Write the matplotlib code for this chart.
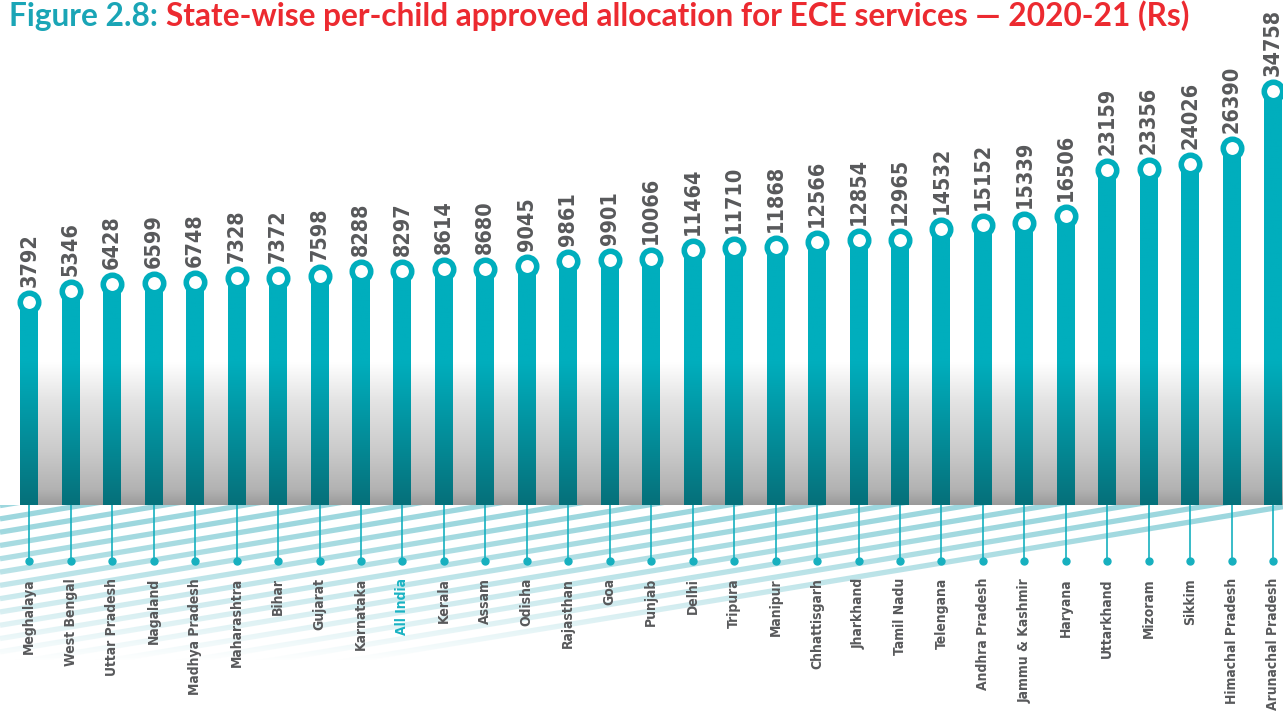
import numpy as np
import matplotlib.pyplot as plt
from matplotlib.colors import to_rgb

states = ['Meghalaya', 'West Bengal', 'Uttar Pradesh', 'Nagaland', 'Madhya Pradesh',
          'Maharashtra', 'Bihar', 'Gujarat', 'Karnataka', 'All India', 'Kerala',
          'Assam', 'Odisha', 'Rajasthan', 'Goa', 'Punjab', 'Delhi', 'Tripura',
          'Manipur', 'Chhattisgarh', 'Jharkhand', 'Tamil Nadu', 'Telengana',
          'Andhra Pradesh', 'Jammu & Kashmir', 'Haryana', 'Uttarkhand', 'Mizoram',
          'Sikkim', 'Himachal Pradesh', 'Arunachal Pradesh']
values = [3792, 5346, 6428, 6599, 6748, 7328, 7372, 7598, 8288, 8297, 8614,
          8680, 9045, 9861, 9901, 10066, 11464, 11710, 11868, 12566, 12854,
          12965, 14532, 15152, 15339, 16506, 23159, 23356, 24026, 26390, 34758]
highlight = 'All India'

TEAL = '#00aebd'
TEAL_DARK = '#06707a'
TEAL_LINE = '#17b0bf'
STRIPE = '#9dd7de'
GREY_TXT = '#58595b'
NARROW = dict(family='DejaVu Sans', stretch='condensed', fontweight='bold')

W, H = 1283, 713
BASE = 505          # bar baseline, pixels from top
FADE = 143          # height of the shaded band above the baseline
fig = plt.figure(figsize=(W / 100, H / 100), dpi=100)

n = len(states)
x = np.arange(n)
x0, dx = 29.3, 41.46
xlim = (-x0 / dx, (W - x0) / dx)
ymin, ymax = -26060, 48200
bw = 0.434

# grey shaded band behind the lower half of the bars
band = fig.add_axes([21 / W, (H - BASE) / H, 1 - 21 / W, FADE / H], zorder=0)
stops = np.array([0.0, 38, 88, 128, 143]) / FADE
greys = np.array([255, 228, 203, 178, 155]) / 255
yy = np.linspace(0, 1, 200)
g = np.interp(yy, stops, greys)
band.imshow(np.repeat(g[:, None, None], 3, axis=2), aspect='auto',
            extent=[0, 1, 1, 0], origin='upper')
band.set_axis_off()

ax = fig.add_axes([0, (H - BASE) / H, 1, BASE / H], zorder=2)
ax.patch.set_alpha(0)
ax.set_axis_off()

# bar colour fades from teal to dark teal over the shaded band
N = 600
frac = np.linspace(0, 1, N)
t = np.clip(1 - frac / (FADE / BASE), 0, 1)
top, bot = np.array(to_rgb(TEAL)), np.array(to_rgb(TEAL_DARK))
grad = (top[None, :] * (1 - t[:, None]) + bot[None, :] * t[:, None])[:, None, :]

bars = ax.bar(x, np.array(values) - ymin, bottom=ymin, width=bw,
              color=TEAL, zorder=2)
for xi, b in zip(x, bars):
    im = ax.imshow(grad, aspect='auto', origin='lower', zorder=2.5,
                   extent=[xi - bw / 2, xi + bw / 2, ymin, ymax])
    im.set_clip_path(b)

ax.plot(x, values, 'o', ms=13.3, mfc='white', mec=TEAL, mew=4.0,
        zorder=4, clip_on=False)
for xi, v in zip(x, values):
    ax.annotate(str(v), (xi, v), xytext=(0, 15), textcoords='offset pixels',
                rotation=90, ha='center', va='bottom', fontsize=15.5,
                color=GREY_TXT, **NARROW)
ax.set_xlim(*xlim)
ax.set_ylim(ymin, ymax)

# diagonal stripes under the baseline, fading out downwards
low = H - BASE
ax_s = fig.add_axes([0, 0, 1, low / H], zorder=1)
ax_s.set_axis_off()
xs = np.array([0, W])
for kk in range(-25, 1):
    ax_s.plot(xs, 3 + 0.165 * (1275 - xs) + 13.3 * kk, color=STRIPE,
              lw=3.8, solid_capstyle='butt', zorder=1)
ry = np.arange(low)
veil = np.ones((low, 1, 4))
veil[:, 0, 3] = np.clip((ry - 15) / 140, 0, 1) ** 1.2
ax_s.imshow(veil, aspect='auto', extent=(0, W, low, 0), origin='upper',
            zorder=2)
ax_s.set_xlim(0, W)
ax_s.set_ylim(low, 0)

# stems, dots and state names
ax_l = fig.add_axes([0, 0, 1, low / H], zorder=3)
ax_l.patch.set_alpha(0)
ax_l.set_axis_off()
ax_l.vlines(x, 0, 56, color=TEAL_LINE, lw=1.2)
ax_l.plot(x, np.full(n, 56), 'o', ms=5, color=TEAL_LINE)
for xi, s in zip(x, states):
    ax_l.text(xi, 73, s, rotation=90, ha='center', va='top', fontsize=10,
              color='#1ab3c3' if s == highlight else GREY_TXT, **NARROW)
ax_l.set_xlim(*xlim)
ax_l.set_ylim(low, 0)

t1 = fig.text(9 / W, 1 - 26 / H, 'Figure 2.8:', fontsize=22.8,
              fontweight='bold', family='Lato', color='#1aa5b6',
              va='baseline', ha='left')
fig.add_artist(plt.Annotation(
    'State-wise per-child approved allocation for ECE services \u2014 2020-21 (Rs)',
    xy=(1, 1 - 26 / H), xycoords=(t1, 'figure fraction'),
    xytext=(8, 0), textcoords='offset pixels', fontsize=22.8,
    fontweight='bold', family='Lato', color='#ec2a30',
    va='baseline', ha='left'))

fig.savefig('out.png', dpi=100)
